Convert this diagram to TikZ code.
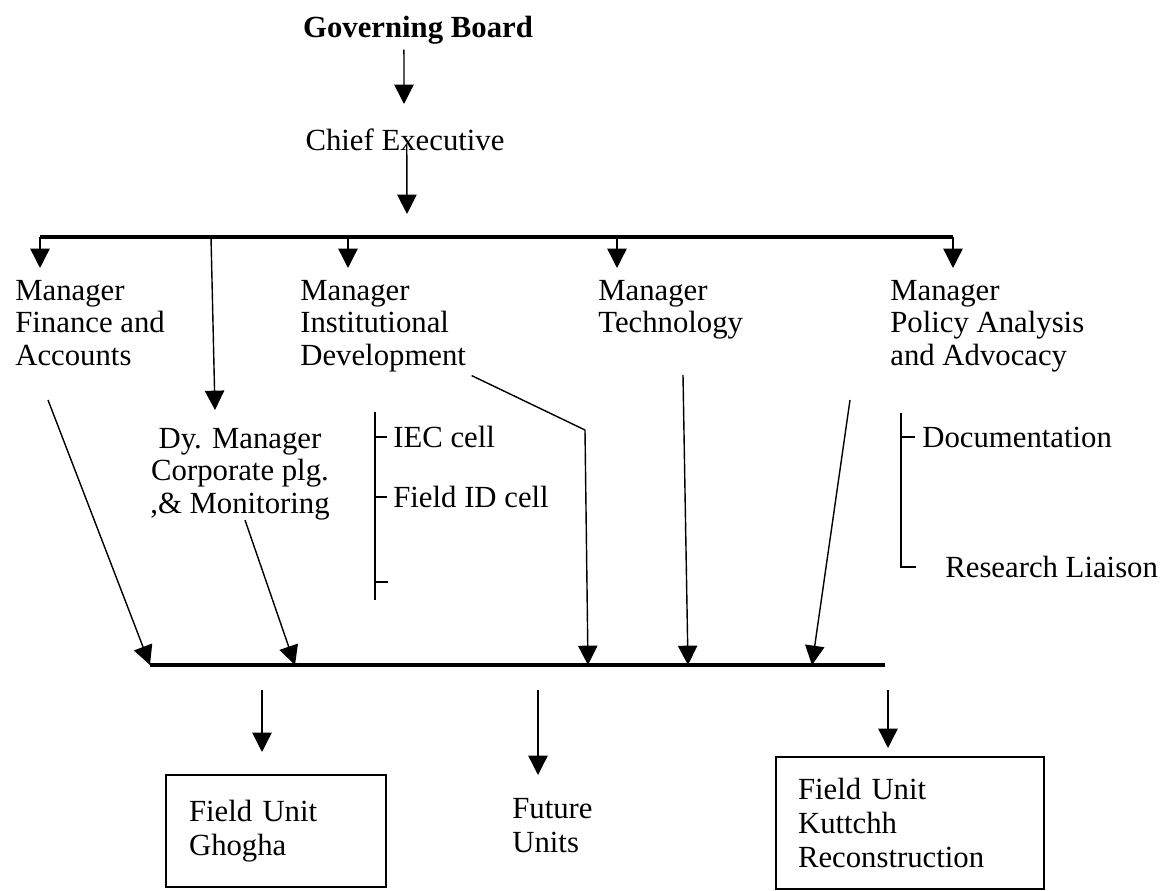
\documentclass[tikz,border=0pt]{standalone}
\usepackage{fontspec}
\setmainfont{Liberation Serif}
\usetikzlibrary{arrows.meta}
\begin{document}
\begin{tikzpicture}[x=0.02cm,y=-0.02cm,
  lbl/.style={inner sep=0pt, align=left, font=\fontsize{17.5}{18.4}\selectfont},
  unitbox/.style={draw, line width=1.2pt, anchor=north west, inner ysep=0pt,
                  align=left, font=\fontsize{17.5}{19.5}\selectfont},
  arr/.style={line width=0.8pt, -{Triangle[length=11pt,width=11pt]}},
  link/.style={line width=0.8pt},
  bus/.style={line width=1.9pt},
  tick/.style={line width=0.8pt}]
\useasboundingbox (0,0) rectangle (1167,891);

% ---- top of the hierarchy
\node[lbl, font=\fontsize{17.5}{18.4}\selectfont\bfseries] (gb) at (418,30) {Governing Board};
\node[lbl] (ce) at (405,140) {Chief Executive};

% ---- managers
\node[lbl, anchor=north west] (fin)  at (15,280)  {Manager\\Finance and\\Accounts};
\node[lbl, anchor=north west] (inst) at (300,280) {Manager\\Institutional\\Development};
\node[lbl, anchor=north west] (tech) at (598,280) {Manager\\Technology};
\node[lbl, anchor=north west] (pol)  at (890,280) {Manager\\Policy Analysis\\and Advocacy};
\node[lbl, anchor=north, align=center] (dy) at (240,428) {Dy. Manager\\Corporate plg.\\,\& Monitoring};

% ---- cells
\node[lbl, anchor=west] (iec) at (393,437) {IEC cell};
\node[lbl, anchor=west] (fid) at (393,497) {Field ID cell};
\node[lbl, anchor=west] (doc) at (922,437) {Documentation};
\node[lbl, anchor=west] (res) at (945,567) {Research Liaison};

% ---- field units
\node[unitbox, minimum width=4.4cm, minimum height=2.24cm, text width=3.48cm, inner xsep=0.46cm]
  (gho) at (165,774) {Field Unit\\Ghogha};
\node[lbl, anchor=north west, font=\fontsize{17.5}{19.5}\selectfont] (fut) at (512,798) {Future\\Units};
\node[unitbox, minimum width=5.36cm, minimum height=2.64cm, text width=4.48cm, inner xsep=0.44cm]
  (kut) at (775,756) {Field Unit\\Kuttchh\\Reconstruction};

% ---- connector points
\coordinate (gbTip)  at (404,104);
\coordinate (ceTip)  at (407,214);
\coordinate (busL)   at (40,237);
\coordinate (busR)   at (953,237);
\coordinate (dyTop)  at (211,237);
\coordinate (dyTip)  at (215,410);
\coordinate (instTop) at (348,237);
\coordinate (techTop) at (617,237);
\coordinate (baseL)  at (150,665);
\coordinate (baseR)  at (885,665);
\coordinate (finFrom) at (48,400);
\coordinate (dyFrom)  at (245,520);
\coordinate (instBend) at (585,430);
\coordinate (instTip) at (588,665);
\coordinate (techFrom) at (683,375);
\coordinate (techTip) at (688,665);
\coordinate (polFrom) at (850,400);
\coordinate (polTip) at (812,665);
\coordinate (dyTipB) at (295,665);
\coordinate (ghoFrom) at (262,690);
\coordinate (futFrom) at (538,690);
\coordinate (kutFrom) at (888,690);

% ---- top connectors
\draw[arr] ([xshift=-8pt,yshift=-3pt]gb.south) -- (gbTip);
\draw[arr] ([xshift=1pt,yshift=4pt]ce.south) -- (ceTip);
\draw[bus] (busL) -- (busR);
\draw[arr] (busL) -- (busL |- 0,268);
\draw[arr] (instTop) -- (instTop |- 0,268);
\draw[arr] (techTop) -- (techTop |- 0,268);
\draw[arr] (busR) -- (busR |- 0,268);
\draw[arr] (dyTop) -- (dyTip);

% ---- cell brackets
\draw[tick] (375,412) -- (375,600);
\draw[tick] (375,437) -- (387,437);
\draw[tick] (375,497) -- (387,497);
\draw[tick] (375,582) -- (388,582);
\draw[tick] (901,413) -- (901,567) -- (916,567);
\draw[tick] (901,437) -- (915,437);

% ---- links down to the field bus
\draw[bus] (baseL) -- (baseR);
\draw[arr] (finFrom) -- (baseL);
\draw[arr] (dyFrom) -- (dyTipB);
\draw[link] ([xshift=3pt,yshift=-2pt]inst.south east) -- (instBend);
\draw[arr] (instBend) -- (instTip);
\draw[arr] (techFrom) -- (techTip);
\draw[arr] (polFrom) -- (polTip);

% ---- field bus to units
\draw[arr] (ghoFrom) -- (ghoFrom |- 0,752);
\draw[arr] (futFrom) -- (futFrom |- 0,775);
\draw[arr] (kutFrom) -- (kutFrom |- 0,748);
\end{tikzpicture}
\end{document}
